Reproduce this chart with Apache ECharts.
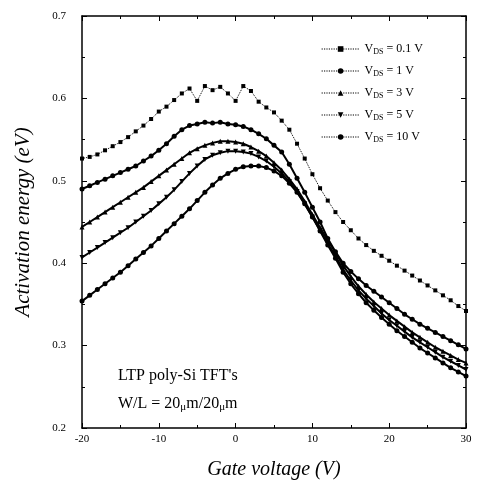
<!DOCTYPE html>
<html>
<head>
<meta charset="utf-8">
<script src="https://cdn.jsdelivr.net/npm/echarts@6/dist/echarts.min.js"></script>
<style>
  html, body { margin: 0; padding: 0; background: #fff; }
  #chart { width: 478px; height: 488px; }
</style>
</head>
<body>
<div id="chart"></div>
<script>
// gate voltage (V), one point per volt
const gateVoltage = [];
for (let v = -20; v <= 30; v++) gateVoltage.push(v);

const vdsValues = ['0.1', '1', '3', '5', '10'];

// activation energy (eV)
const ea01 = [0.527, 0.529, 0.532, 0.537, 0.542, 0.547, 0.553, 0.560, 0.567, 0.575,
    0.584, 0.590, 0.598, 0.606, 0.612, 0.597, 0.615, 0.610, 0.614, 0.606,
    0.597, 0.615, 0.609, 0.596, 0.589, 0.583, 0.573, 0.562, 0.545, 0.527,
    0.508, 0.491, 0.476, 0.462, 0.450, 0.440, 0.430, 0.422, 0.415, 0.409,
    0.403, 0.397, 0.391, 0.385, 0.379, 0.373, 0.367, 0.361, 0.355, 0.348, 0.342];
const ea1 = [0.490, 0.494, 0.498, 0.502, 0.506, 0.510, 0.514, 0.518, 0.524, 0.530,
    0.537, 0.545, 0.554, 0.562, 0.567, 0.569, 0.571, 0.570, 0.571, 0.569,
    0.568, 0.566, 0.562, 0.557, 0.551, 0.543, 0.535, 0.520, 0.503, 0.486,
    0.468, 0.450, 0.430, 0.414, 0.400, 0.390, 0.381, 0.373, 0.366, 0.359,
    0.352, 0.345, 0.338, 0.332, 0.326, 0.321, 0.316, 0.311, 0.306, 0.301, 0.296];
const ea3 = [0.444, 0.450, 0.456, 0.462, 0.468, 0.474, 0.480, 0.486, 0.492, 0.499,
    0.506, 0.513, 0.520, 0.527, 0.534, 0.539, 0.543, 0.546, 0.548, 0.548,
    0.547, 0.545, 0.541, 0.536, 0.530, 0.522, 0.513, 0.502, 0.490, 0.475,
    0.459, 0.443, 0.428, 0.413, 0.397, 0.384, 0.372, 0.362, 0.353, 0.345,
    0.337, 0.330, 0.323, 0.316, 0.310, 0.304, 0.298, 0.293, 0.288, 0.283, 0.279];
const ea5 = [0.407, 0.413, 0.419, 0.425, 0.431, 0.437, 0.443, 0.450, 0.457, 0.464,
    0.472, 0.480, 0.489, 0.499, 0.509, 0.518, 0.526, 0.531, 0.534, 0.536,
    0.536, 0.535, 0.533, 0.529, 0.524, 0.517, 0.509, 0.499, 0.487, 0.472,
    0.456, 0.440, 0.424, 0.409, 0.392, 0.379, 0.367, 0.357, 0.348, 0.339,
    0.331, 0.324, 0.317, 0.310, 0.304, 0.298, 0.292, 0.286, 0.281, 0.276, 0.271];
const ea10 = [0.354, 0.361, 0.368, 0.375, 0.382, 0.389, 0.397, 0.405, 0.413, 0.421,
    0.430, 0.439, 0.448, 0.457, 0.466, 0.476, 0.486, 0.495, 0.503, 0.509,
    0.514, 0.517, 0.518, 0.518, 0.516, 0.512, 0.506, 0.497, 0.486, 0.472,
    0.456, 0.439, 0.422, 0.406, 0.389, 0.375, 0.363, 0.352, 0.343, 0.334,
    0.326, 0.318, 0.311, 0.304, 0.297, 0.291, 0.285, 0.279, 0.273, 0.268, 0.263];

const seriesData = [ea01, ea1, ea3, ea5, ea10];
const symbols = ['rect', 'circle', 'triangle', 'triangle', 'circle'];
const rotations = [0, 0, 0, 180, 0];

let myChart = echarts.init(document.getElementById('chart'));

const serif = 'Liberation Serif';

function pairs(arr) {
    return arr.map((y, i) => [gateVoltage[i], y]);
}

let series = vdsValues.map((vds, k) => ({
    name: vds,
    type: 'line',
    data: pairs(seriesData[k]),
    symbol: symbols[k],
    symbolRotate: rotations[k],
    symbolSize: k === 0 ? 4 : 5,
    showAllSymbol: true,
    itemStyle: { color: '#000' },
    lineStyle: { color: '#000', width: k === 0 ? 1 : 2, type: k === 0 ? 'dotted' : 'solid' },
    silent: true,
    animation: false
}));

// box axes, ticks pointing in
const tickStyle = {
    axisLine: { onZero: false, lineStyle: { color: '#000', width: 1.5 } },
    axisTick: { inside: true, length: 5, lineStyle: { color: '#000' } },
    minorTick: { show: true, splitNumber: 2, length: 3, lineStyle: { color: '#000' } },
    splitLine: { show: false }
};

myChart.setOption({
    animation: false,
    grid: { left: 82, right: 12, top: 16, bottom: 60 },
    legend: {
        orient: 'vertical',
        left: 316,
        top: 38,
        itemGap: 9,
        itemWidth: 38,
        itemHeight: 7,
        data: vdsValues,
        lineStyle: { type: 'dotted', width: 1.2 },
        formatter(name) {
            return '{v|V}{s|DS}{v| = ' + name + ' V}';
        },
        textStyle: {
            color: '#000',
            rich: {
                v: { fontFamily: serif, fontSize: 12, color: '#000' },
                s: { fontFamily: serif, fontSize: 8, color: '#000', verticalAlign: 'bottom', padding: [6, 0, 0, 0] }
            }
        }
    },
    xAxis: [
        Object.assign({
            type: 'value',
            min: -20,
            max: 30,
            interval: 10,
            name: 'Gate voltage (V)',
            nameLocation: 'middle',
            nameGap: 32,
            nameTextStyle: { fontFamily: serif, fontStyle: 'italic', fontSize: 20, color: '#000' },
            axisLabel: { fontFamily: serif, fontSize: 11, color: '#000', margin: 6 }
        }, tickStyle),
        Object.assign({
            type: 'value',
            position: 'top',
            min: -20,
            max: 30,
            interval: 10,
            axisLabel: { show: false }
        }, tickStyle)
    ],
    yAxis: [
        Object.assign({
            type: 'value',
            min: 0.2,
            max: 0.7,
            interval: 0.1,
            name: 'Activation energy (eV)',
            nameLocation: 'middle',
            nameGap: 48,
            nameTextStyle: { fontFamily: serif, fontStyle: 'italic', fontSize: 21, color: '#000' },
            axisLabel: {
                fontFamily: serif, fontSize: 11, color: '#000', margin: 16,
                formatter: v => v.toFixed(1)
            }
        }, tickStyle),
        Object.assign({
            type: 'value',
            position: 'right',
            min: 0.2,
            max: 0.7,
            interval: 0.1,
            axisLabel: { show: false }
        }, tickStyle)
    ],
    graphic: [
        {
            type: 'text',
            left: 118,
            top: 368,
            style: { text: "LTP poly-Si TFT's", font: '16px "Liberation Serif"', fill: '#000' }
        },
        {
            type: 'text',
            left: 118,
            top: 396,
            style: {
                text: '{a|W/L = 20}{b|μ}{a|m/20}{b|μ}{a|m}',
                rich: {
                    a: { fontFamily: serif, fontSize: 16, fill: '#000' },
                    b: { fontFamily: serif, fontSize: 11, fill: '#000', padding: [6, 0, 0, 0] }
                }
            }
        }
    ],
    series: series
});
</script>
</body>
</html>
